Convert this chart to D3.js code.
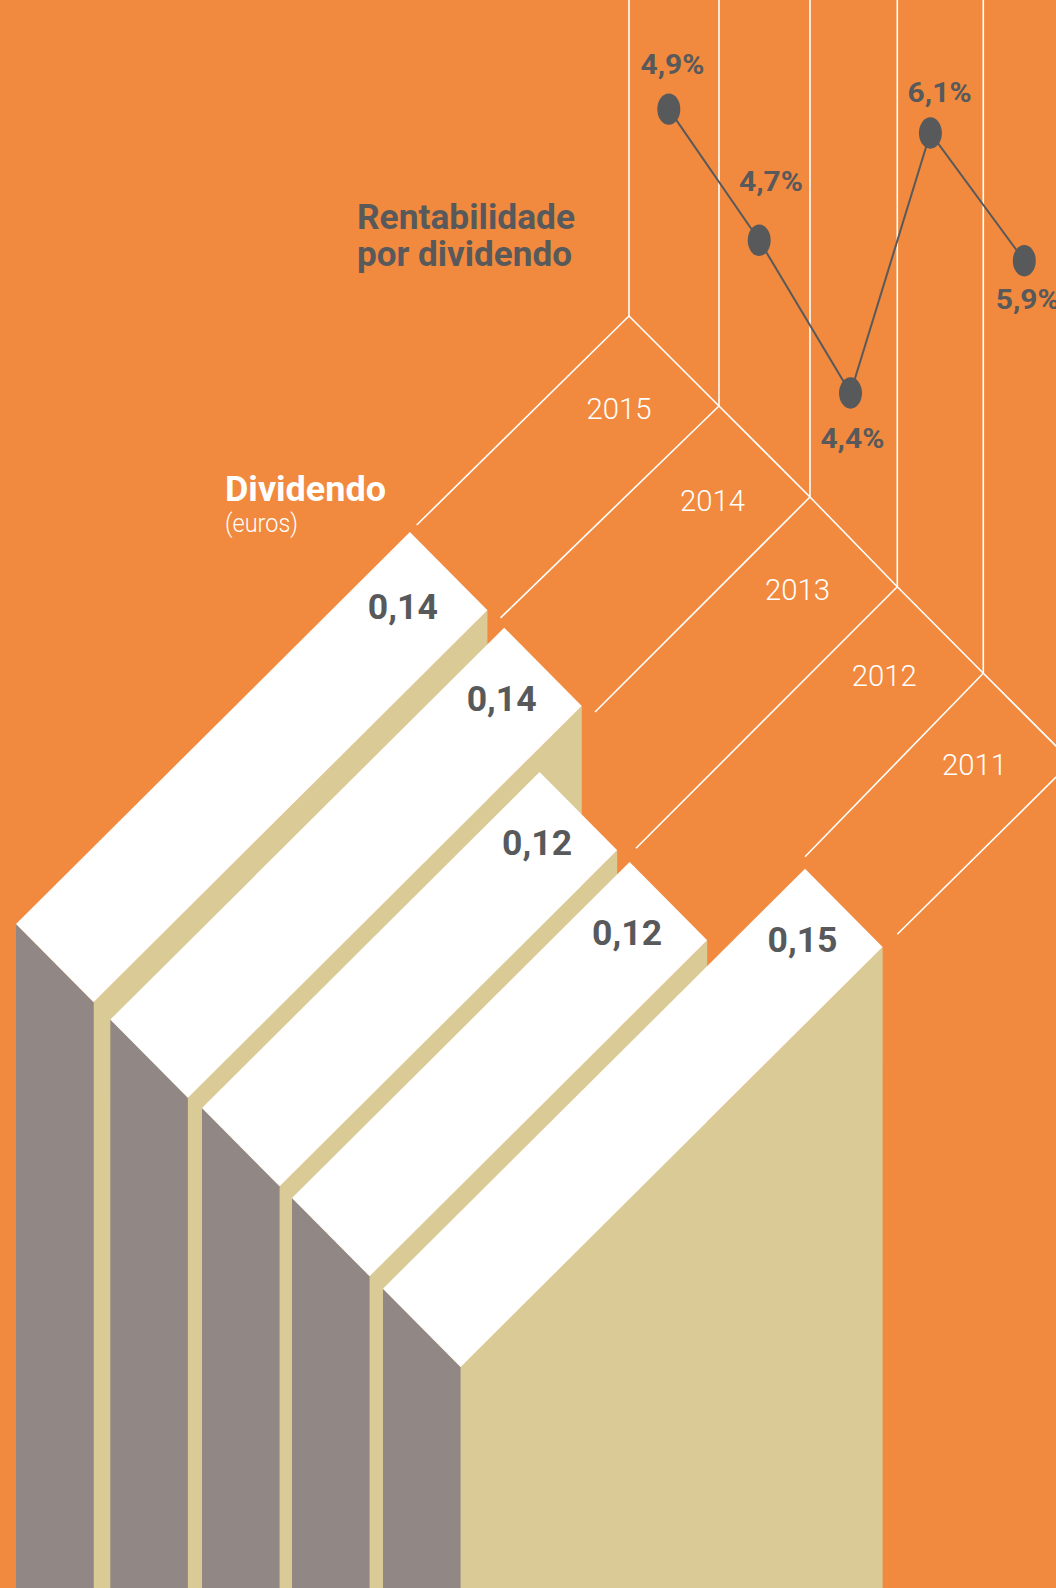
<!DOCTYPE html>
<html>
<head>
<meta charset="utf-8">
<script src="https://d3js.org/d3.v7.min.js"></script>
<style>
	html, body { margin: 0; padding: 0; background: #f18a3e; overflow: hidden; }
	svg { display: block; }
	text { font-family: Roboto, sans-serif; }
</style>
</head>
<body>
<svg id="chart" width="1056" height="1588"></svg>
<script>
// values
const years = [2015, 2014, 2013, 2012, 2011];
const dividends = [0.14, 0.14, 0.12, 0.12, 0.15];
const yields = [4.9, 4.7, 4.4, 6.1, 5.9];

const width = 1056, height = 1588;
const orange = '#f18a3e', grey = '#918885', tan = '#dacb96', dark = '#58595b';

// bars sit on a diagonal, each year has its own front-left corner
const cornerX = d3.scaleOrdinal(years, [16, 110.3, 202, 292, 383]);
const cornerY = d3.scaleOrdinal(years, [924, 1019.6, 1108, 1198, 1288.7]);
const depth = d3.scaleLinear().domain([0, 0.15]).range([0, 422]);
const skew = 0.995;
const topW = 77.6, topH = 78.2;

// the guide lines and the yield line
const apexX = d3.scaleOrdinal(years, [629, 719, 810, 897.3, 983.3]);
const apexY = d3.scaleOrdinal(years, [316, 406, 497, 586.7, 673.3]);
const guideEndX = d3.scaleOrdinal(years, [416.7, 500.5, 595, 636, 805]);
const guideEndY = d3.scaleOrdinal(years, [525, 617.9, 712, 848.3, 856.7]);
const dotX = d3.scaleOrdinal(years, [668.8, 759.2, 850.5, 930.4, 1024.3]);
const rise = d3.scaleLinear().domain([4.4, 6.1]).range([104, 453.7]);

const comma = d => String(d).replace('.', ',');
const rows = years.map((year, i) => ({ year, dividend: dividends[i], yield: yields[i] }));
const line = d3.line();

const svg = d3.select('#chart');
svg.append('rect').attr('width', width).attr('height', height).attr('fill', orange);

// guide lines
let guides = svg.append('g')
	.attr('fill', 'none')
	.attr('stroke', '#fff')
	.attr('stroke-width', 1.6);

guides.selectAll('.vert')
	.data(rows)
	.join('path')
	.attr('class', 'vert')
	.attr('d', d => line([[apexX(d.year), 0], [apexX(d.year), apexY(d.year)]]));

guides.selectAll('.diag')
	.data(rows)
	.join('path')
	.attr('class', 'diag')
	.attr('d', d => line([[guideEndX(d.year), guideEndY(d.year)], [apexX(d.year), apexY(d.year)]]));

guides.append('path')
	.attr('d', line(rows.map(d => [apexX(d.year), apexY(d.year)]).concat([[1071.7, 761.7], [897.3, 934.3]])));

// year labels
const yearText = d3.scaleOrdinal(years, [[586.6, 418.6], [680, 511], [765, 600], [851.7, 686], [942, 775]]);
svg.append('g').selectAll('text')
	.data(rows)
	.join('text')
	.attr('x', d => yearText(d.year)[0])
	.attr('y', d => yearText(d.year)[1])
	.attr('textLength', 65)
	.attr('lengthAdjust', 'spacingAndGlyphs')
	.attr('fill', '#fff')
	.attr('font-size', 30)
	.attr('font-weight', 300)
	.text(d => d.year);

// bars, back to front so that each one hides the side of the previous
let bars = svg.append('g').selectAll('g')
	.data(rows)
	.join('g');

const pts = d => {
	let x = cornerX(d.year), y = cornerY(d.year), dx = depth(d.dividend), dy = dx * skew;
	return {
		left: [x, y],
		bottom: [x + topW, y + topH],
		right: [x + topW + dx, y + topH - dy],
		top: [x + dx, y - dy]
	};
};

bars.append('path')
	.attr('fill', tan)
	.attr('d', d => {
		let p = pts(d);
		return line([p.bottom, p.right, [p.right[0], height], [p.bottom[0], height]]) + 'Z';
	});

bars.append('path')
	.attr('fill', grey)
	.attr('d', d => {
		let p = pts(d);
		return line([p.left, p.bottom, [p.bottom[0], height], [p.left[0], height]]) + 'Z';
	});

bars.append('path')
	.attr('fill', '#fff')
	.attr('d', d => {
		let p = pts(d);
		return line([p.left, p.top, p.right, p.bottom]) + 'Z';
	});

bars.append('text')
	.attr('x', d => pts(d).top[0] - (d.year === 2015 ? 7 : 2.5))
	.attr('y', d => pts(d).top[1] + (d.year === 2015 ? 86.6 : 83))
	.attr('text-anchor', 'middle')
	.attr('textLength', 70)
	.attr('lengthAdjust', 'spacingAndGlyphs')
	.attr('fill', dark)
	.attr('font-size', 35)
	.attr('font-weight', 700)
	.text(d => comma(d.dividend.toFixed(2)));

// yield line
const dotY = d => apexY(d.year) - rise(d.yield);

svg.append('path')
	.attr('fill', 'none')
	.attr('stroke', dark)
	.attr('stroke-width', 2)
	.attr('d', line(rows.map(d => [dotX(d.year), dotY(d)])));

svg.append('g').selectAll('ellipse')
	.data(rows)
	.join('ellipse')
	.attr('cx', d => dotX(d.year))
	.attr('cy', d => dotY(d))
	.attr('rx', 11.5)
	.attr('ry', 15.7)
	.attr('fill', dark);

const yieldText = d3.scaleOrdinal(years, [[640.5, 74.3], [739, 191], [820.4, 448], [907.6, 101.8], [995.7, 309]]);
svg.append('g').selectAll('text')
	.data(rows)
	.join('text')
	.attr('x', d => yieldText(d.year)[0])
	.attr('y', d => yieldText(d.year)[1])
	.attr('textLength', 64)
	.attr('lengthAdjust', 'spacingAndGlyphs')
	.attr('fill', dark)
	.attr('font-size', 28)
	.attr('font-weight', 700)
	.text(d => comma(d.yield.toFixed(1)) + '%');

// titles
const title = (txt, x, y, size, weight, color, len) => svg.append('text')
	.attr('x', x)
	.attr('y', y)
	.attr('font-size', size)
	.attr('font-weight', weight)
	.attr('fill', color)
	.attr('textLength', len)
	.attr('lengthAdjust', 'spacingAndGlyphs')
	.text(txt);

title('Rentabilidade', 357, 229, 35, 700, dark, 218);
title('por dividendo', 357, 266, 35, 700, dark, 215);
title('Dividendo', 225, 501, 35, 700, '#fff', 161);
title('(euros)', 225, 532, 26, 300, '#fff', 73);
</script>
</body>
</html>
